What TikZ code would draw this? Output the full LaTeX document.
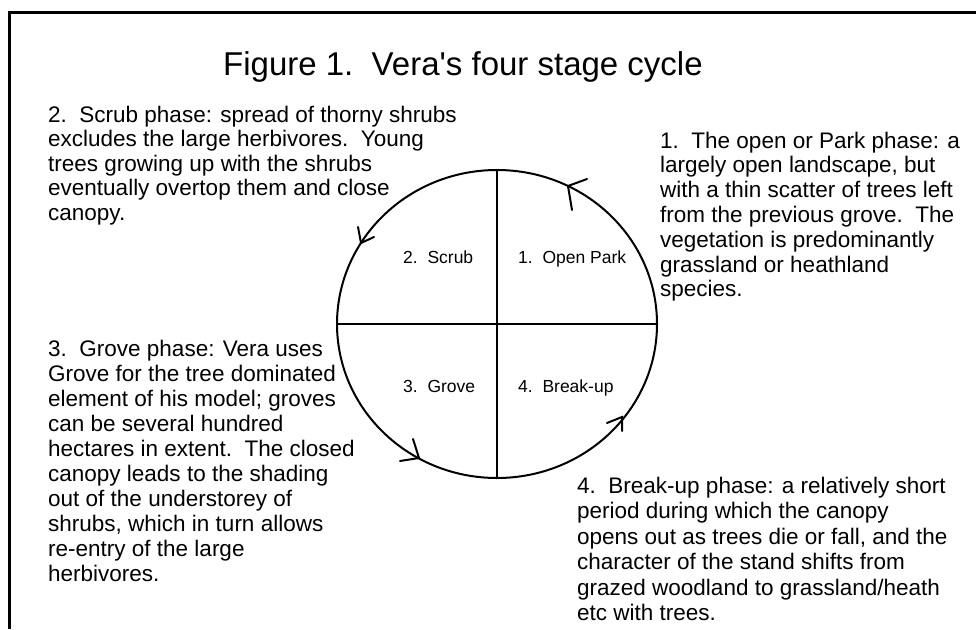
\documentclass[tikz,border=0pt]{standalone}
\usepackage{fontspec}
\setmainfont{Liberation Sans}
\usetikzlibrary{shapes.geometric}
\newcommand\txtblock[2]{{\fontsize{22.5}{#1}\selectfont\begin{tabular}[t]{@{}l@{}}#2\end{tabular}}}
\begin{document}
\begin{tikzpicture}[x=1pt,y=-1pt,
  desc/.style={anchor=base west, inner sep=0pt},
  lbl/.style={anchor=base west, inner sep=0pt, font=\fontsize{17.5}{21}\selectfont},
  ring/.style={line width=2pt},
  barb/.style={line width=2pt, line cap=round, line join=miter}]
\useasboundingbox (0,0) rectangle (976,629);
% frame
\draw[line width=3pt] (9,629) -- (9,12.5) -- (976,12.5);
% title
\node[anchor=base west, inner sep=0pt, font=\fontsize{33}{40}\selectfont] (title) at (223,75) {Figure 1.\ \ Vera\textquotesingle s four stage cycle};
% circle and cross
\node[ellipse, draw, ring, minimum width=320pt, minimum height=308pt, inner sep=0pt] (c) at (497,324) {};
\draw[ring] (c.west) -- (c.east);
\draw[ring] (c.north) -- (c.south);
% quadrant labels
\node[lbl] (q2) at (403,263) {2.\ \ Scrub};
\node[lbl] (q1) at (518,263) {1.\ \ Open Park};
\node[lbl] (q3) at (403,392) {3.\ \ Grove};
\node[lbl] (q4) at (518,392) {4.\ \ Break-up};
% arrowheads (counter-clockwise cycle)
\draw[barb] (587,179) -- (568,186) -- (572,210);
\draw[barb] (374,237) -- (361,243) -- (358,227);
\draw[barb] (400,461) -- (419,458) -- (413,439);
\draw[barb] (607,423) -- (622,417) -- (622,431);
% descriptions
\node[desc] (d2) at (48,122) {\txtblock{24.5}{2.\ \ Scrub phase: spread of thorny shrubs\\excludes the large herbivores.\ \ Young\\trees growing up with the shrubs\\eventually overtop them and close\\canopy.}};
\node[desc] (d1) at (660,148) {\txtblock{24.8}{1.\ \ The open or Park phase: a\\largely open landscape, but\\with a thin scatter of trees left\\from the previous grove.\ \ The\\vegetation is predominantly\\grassland or heathland\\species.}};
\node[desc] (d3) at (48,356) {\txtblock{25}{3.\ \ Grove phase: Vera uses\\Grove for the tree dominated\\element of his model; groves\\can be several hundred\\hectares in extent.\ \ The closed\\canopy leads to the shading\\out of the understorey of\\shrubs, which in turn allows\\re-entry of the large\\herbivores.}};
\node[desc] (d4) at (577,493) {\txtblock{25.5}{4.\ \ Break-up phase: a relatively short\\period during which the canopy\\opens out as trees die or fall, and the\\character of the stand shifts from\\grazed woodland to grassland/heath\\etc with trees.}};
\end{tikzpicture}
\end{document}
